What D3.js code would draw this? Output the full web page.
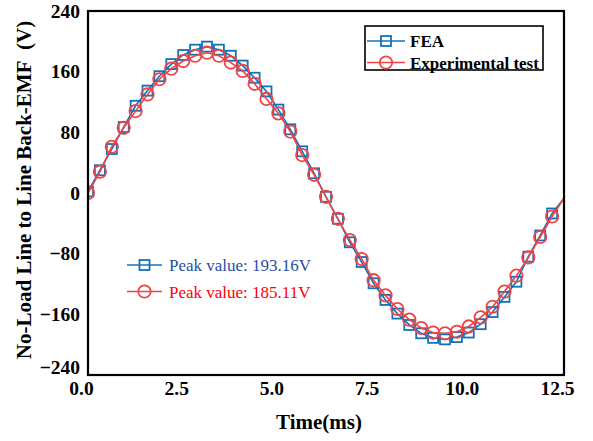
<!DOCTYPE html>
<html>
<head>
<meta charset="utf-8">
<script src="https://cdn.jsdelivr.net/npm/d3@7"></script>
<style>
  body { margin: 0; background: #fff; }
  text { font-family: "Liberation Serif", "Times New Roman", serif; }
</style>
</head>
<body>
<div id="chart"></div>
<script>
// sample times (ms), one every 0.3125 ms
const times = d3.range(41).map(i => i * 0.3125)

// FEA back-EMF (V)
const feaValues = [2, 30, 58, 87, 115, 135, 154, 170, 182, 189, 193, 189, 181, 168, 152, 134, 110, 84, 55, 26,
  -5, -34, -65, -91, -119, -141, -159, -174, -185, -191, -193, -190, -184, -173, -157, -137, -117, -84, -56, -27, -7]

// experimental back-EMF (V)
const expValues = [0, 28, 61, 86, 108, 130, 150, 164, 174, 181, 185, 181, 172, 161, 144, 124, 105, 81, 50, 24,
  -5, -34, -62, -87, -115, -135, -153, -167, -178, -184, -185, -183, -176, -164, -150, -130, -109, -85, -58, -31, -7]

const xTicks = [0, 2.5, 5, 7.5, 10, 12.5]
const yTicks = [-240, -160, -80, 0, 80, 160, 240]
const seriesNames = ['FEA', 'Experimental test']
const peakLabels = ['Peak value: 193.16V', 'Peak value: 185.11V']

const width = 593, height = 441
const margin = {top: 11, right: 29, bottom: 66, left: 88}
const w = width - margin.left - margin.right
const h = height - margin.top - margin.bottom

const blue = '#1470b8'
const red = '#f04444'

const svg = d3.select('#chart').append('svg')
  .attr('width', width)
  .attr('height', height)

const g = svg.append('g')
  .attr('transform', 'translate(' + margin.left + ',' + margin.top + ')')

const x = d3.scaleLinear().domain([0, 12.5]).range([0, w])
const y = d3.scaleLinear().domain([-240, 240]).range([h, 0])

g.append('clipPath').attr('id', 'clip')
  .append('rect').attr('width', w).attr('height', h)

// axes, labels only (no tick marks)
const xAxis = g.append('g')
  .attr('transform', 'translate(0,' + h + ')')
  .call(d3.axisBottom(x).tickValues(xTicks).tickFormat(d3.format('.1f')).tickSize(0).tickPadding(6))
xAxis.select('.domain').remove()
xAxis.selectAll('text')
  .attr('dx', -7)
  .style('font', 'bold 19.5px "Liberation Serif"')
  .style('fill', '#000')

const yAxis = g.append('g')
  .call(d3.axisLeft(y).tickValues(yTicks).tickFormat(d3.format('d')).tickSize(0).tickPadding(8))
yAxis.select('.domain').remove()
yAxis.selectAll('text')
  .attr('dy', d => d === -240 ? '-0.08em' : '0.32em')
  .style('font', 'bold 19.5px "Liberation Serif"')
  .style('fill', '#000')

// series
const plot = g.append('g').attr('clip-path', 'url(#clip)')

function drawSeries(values, color, marker) {
  const pts = times.map((t, i) => ({t: t, v: values[i]}))
  plot.append('path')
    .datum(pts)
    .attr('fill', 'none')
    .attr('stroke', color)
    .attr('stroke-width', 1.6)
    .attr('d', d3.line().x(d => x(d.t)).y(d => y(d.v)))
  const mk = plot.selectAll(null)
    .data(pts.filter(d => d.t < 12.5))
    .enter()
  if (marker === 'square') {
    mk.append('rect')
      .attr('x', d => x(d.t) - 5)
      .attr('y', d => y(d.v) - 5)
      .attr('width', 10)
      .attr('height', 10)
      .attr('fill', 'none')
      .attr('stroke', color)
      .attr('stroke-width', 1.8)
  } else {
    mk.append('circle')
      .attr('cx', d => x(d.t))
      .attr('cy', d => y(d.v))
      .attr('r', 6.2)
      .attr('fill', 'none')
      .attr('stroke', color)
      .attr('stroke-width', 1.8)
  }
}
drawSeries(feaValues, blue, 'square')
drawSeries(expValues, red, 'circle')

// frame
g.append('rect')
  .attr('width', w)
  .attr('height', h)
  .attr('fill', 'none')
  .attr('stroke', '#000')
  .attr('stroke-width', 2.2)

// legend box
const legend = svg.append('g').attr('transform', 'translate(365,26)')
legend.append('rect')
  .attr('width', 178)
  .attr('height', 44)
  .attr('fill', '#fff')
  .attr('stroke', '#000')
  .attr('stroke-width', 1.6)

function legendSample(sel, color, marker, lx0, lx1, ly) {
  sel.append('line')
    .attr('x1', lx0).attr('x2', lx1).attr('y1', ly).attr('y2', ly)
    .attr('stroke', color).attr('stroke-width', 1.6)
  const cx = (lx0 + lx1) / 2
  if (marker === 'square') {
    sel.append('rect')
      .attr('x', cx - 5).attr('y', ly - 5).attr('width', 10).attr('height', 10)
      .attr('fill', 'none').attr('stroke', color).attr('stroke-width', 1.8)
  } else {
    sel.append('circle')
      .attr('cx', cx).attr('cy', ly).attr('r', 6.2)
      .attr('fill', 'none').attr('stroke', color).attr('stroke-width', 1.8)
  }
}

seriesNames.forEach((name, i) => {
  const ly = 15 + i * 21.5
  legendSample(legend, i === 0 ? blue : red, i === 0 ? 'square' : 'circle', 2, 40, ly)
  legend.append('text')
    .attr('x', 45)
    .attr('y', ly + 6)
    .text(name)
    .style('font', 'bold 17px "Liberation Serif"')
})

// peak value annotations
const note = svg.append('g').attr('transform', 'translate(127,265)')
peakLabels.forEach((label, i) => {
  const ly = i * 26.5
  legendSample(note, i === 0 ? blue : red, i === 0 ? 'square' : 'circle', 0, 35, ly)
  note.append('text')
    .attr('x', 42)
    .attr('y', ly + 6)
    .text(label)
    .style('font', '17px "Liberation Serif"')
    .style('fill', i === 0 ? '#1f4f9f' : '#ff0000')
})

// axis titles
svg.append('text')
  .attr('x', margin.left + w / 2 - 7)
  .attr('y', 429)
  .attr('text-anchor', 'middle')
  .text('Time(ms)')
  .style('font', 'bold 21px "Liberation Serif"')

svg.append('text')
  .attr('transform', 'translate(31,190) rotate(-90)')
  .attr('text-anchor', 'middle')
  .text('No-Load Line to Line Back-EMF\u00a0 (V)')
  .style('font', 'bold 21px "Liberation Serif"')
</script>
</body>
</html>
